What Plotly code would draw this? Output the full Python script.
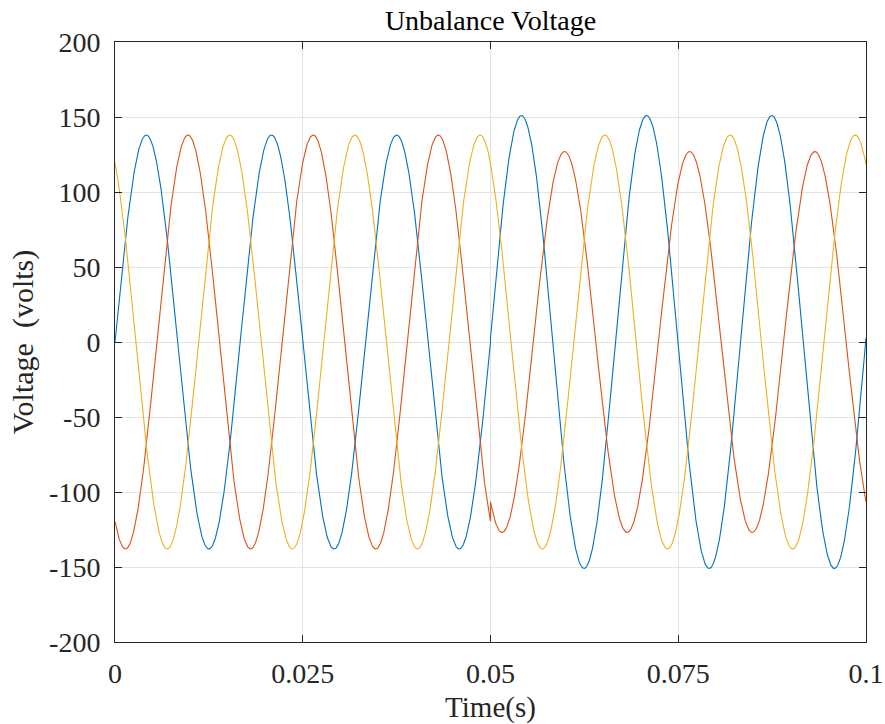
import numpy as np
import plotly.graph_objects as go

# ---- values ----
PHASE_NAMES = ["Va", "Vb", "Vc"]
COLORS = ["#0072BD", "#D95319", "#EDB120"]
FREQ_HZ = 60                      # period ~0.01667 s read from peak spacing
T_START, T_SWITCH, T_END = 0.0, 0.05, 0.1
AMP_BEFORE = [138, 138, 138]      # peak volts before the unbalance
AMP_AFTER = [151, 127, 138]       # peak volts after the unbalance
ANGLE_BEFORE_DEG = [0, -120, 120]
ANGLE_AFTER_DEG = [1, -123, 121]

X_TICKS = [0, 0.025, 0.05, 0.075, 0.1]
X_TICK_TEXT = ["0", "0.025", "0.05", "0.075", "0.1"]
Y_TICKS = [-200, -150, -100, -50, 0, 50, 100, 150, 200]
Y_TICK_TEXT = ["-200", "-150", "-100", "-50", "0", "50", "100", "150", "200"]

FONT = "Liberation Serif, Times New Roman, serif"

t1 = np.linspace(T_START, T_SWITCH, 1001)
t2 = np.linspace(T_SWITCH, T_END, 1001)
w = 2 * np.pi * FREQ_HZ

fig = go.Figure()
for i, name in enumerate(PHASE_NAMES):
    v1 = AMP_BEFORE[i] * np.sin(w * t1 + np.radians(ANGLE_BEFORE_DEG[i]))
    v2 = AMP_AFTER[i] * np.sin(w * t2 + np.radians(ANGLE_AFTER_DEG[i]))
    t = np.concatenate([t1, t2])
    v = np.concatenate([v1, v2])
    fig.add_trace(go.Scatter(x=t, y=v, mode="lines", name=name,
                             line=dict(color=COLORS[i], width=1.1)))

axis_common = dict(
    showline=True, linecolor="#262626", linewidth=1, mirror="ticks",
    ticks="inside", ticklen=7, tickcolor="#262626", tickwidth=1,
    showgrid=True, gridcolor="#e3e3e3", gridwidth=1, zeroline=False,
    automargin=False,
    tickfont=dict(family=FONT, size=28, color="#262626"),
)

fig.update_layout(
    width=885, height=724,
    margin=dict(l=115, r=19, t=42, b=82),
    paper_bgcolor="white", plot_bgcolor="white",
    showlegend=False,
    title=dict(text="Unbalance Voltage", x=0.5, xref="paper", xanchor="center",
               y=1 - 20 / 724, yanchor="middle",
               font=dict(family=FONT, size=28, color="#000000")),
    xaxis=dict(range=[0, 0.1], tickvals=X_TICKS, ticktext=X_TICK_TEXT,
               title=dict(text="Time(s)", standoff=10,
                          font=dict(family=FONT, size=29, color="#262626")),
               ticklabelstandoff=6, **axis_common),
    yaxis=dict(range=[-200, 200], tickvals=Y_TICKS, ticktext=Y_TICK_TEXT,
               title=dict(text="Voltage\u00a0 (volts)", standoff=6,
                          font=dict(family=FONT, size=30, color="#262626")),
               ticklabelstandoff=8, **axis_common),
)

fig.write_html("out.html")
